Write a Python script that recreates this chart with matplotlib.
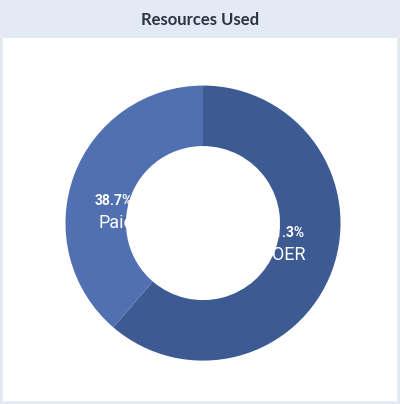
import matplotlib
matplotlib.use('Agg')
import matplotlib.pyplot as plt
from matplotlib.patches import Rectangle

labels = ["OER", "Paid"]
values = [61.3, 38.7]
colors = ["#3d5a93", "#5070b2"]

fig = plt.figure(figsize=(4, 4.04), dpi=100)
fig.patch.set_facecolor("white")

# frame and title band (kept behind the axes)
fig.patches.append(Rectangle((0, 0), 1, 1, transform=fig.transFigure,
                             facecolor="white", edgecolor="#e3eaf4", linewidth=4,
                             zorder=-2))
fig.patches.append(Rectangle((0, 1 - 38 / 404), 1, 38 / 404, transform=fig.transFigure,
                             facecolor="#e3eaf4", edgecolor="none", zorder=-1))
fig.text(0.5, 1 - 20 / 404, "Resources Used", ha="center", va="center",
         fontsize=12, fontweight="bold", color="#2b3445", family="Lato")

ax = fig.add_axes([0.0775, 0.0223, 0.86, 0.851])
ax.set_zorder(1)
ax.patch.set_visible(False)
ax.pie(values, colors=colors, startangle=90, counterclock=False,
       wedgeprops=dict(width=0.44, edgecolor="none"))
ax.set_aspect("equal")

# label positions in data units (radius 1 = outer edge)
pos = {"OER": (0.60, -0.15), "Paid": (-0.65, 0.08)}
for lab, v in zip(labels, values):
    x, y = pos[lab]
    ax.text(x, y + 0.08, f"{v}%", ha="center", va="center", color="white",
            fontsize=10, fontweight="bold", family="Roboto")
    ax.text(x + 0.02, y - 0.08, lab, ha="center", va="center", color="white",
            fontsize=13, family="Roboto")

fig.savefig("out.png", dpi=100)
